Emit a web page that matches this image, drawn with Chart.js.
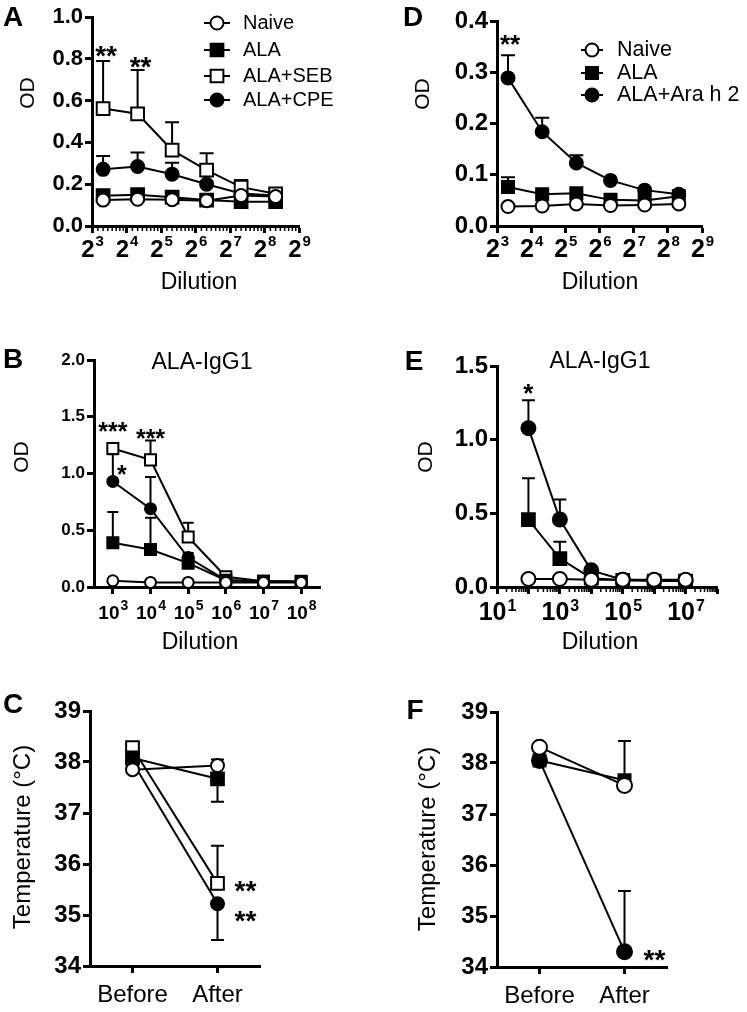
<!DOCTYPE html>
<html>
<head>
<meta charset="utf-8">
<script src="https://cdn.jsdelivr.net/npm/chart.js@4/dist/chart.umd.min.js"></script>
<style>
  html, body { margin: 0; padding: 0; background: #fff; }
  #fig { position: relative; width: 747px; height: 1012px; overflow: hidden; }
  #fig canvas { position: absolute; }
</style>
</head>
<body>
<div id="fig"></div>
<script>
// ---------- data ----------
// A: anti-ALA IgE ELISA, 2-fold dilutions
const dilA = [10, 20, 40, 80, 160, 320];
const naiveA = [0.124, 0.128, 0.126, 0.121, 0.146, 0.141];
const alaA = [0.145, 0.15, 0.138, 0.124, 0.116, 0.116];
const sebA = [0.562, 0.537, 0.363, 0.267, 0.186, 0.154];
const cpeA = [0.271, 0.285, 0.248, 0.2, 0.156, 0.146];
const sebErrA = [0.227, 0.209, 0.133, 0.081, 0.034, 0.006];
const cpeErrA = [0.064, 0.067, 0.055, 0.012, 0, 0];
const ticksA = [8, 16, 32, 64, 128, 256, 512];

// D
const dilD = [10, 20, 40, 80, 160, 320];
const naiveD = [0.038, 0.039, 0.043, 0.04, 0.041, 0.043];
const alaD = [0.076, 0.062, 0.064, 0.051, 0.05, 0.058];
const araD = [0.289, 0.184, 0.123, 0.089, 0.07, 0.062];
const alaErrD = [0.019, 0, 0, 0, 0, 0];
const araErrD = [0.044, 0.027, 0.015, 0, 0, 0];
const ticksD = [8, 16, 32, 64, 128, 256, 512];

// B: ALA-IgG1
const dilB = [1e3, 1e4, 1e5, 1e6, 1e7, 1e8];
const naiveB = [0.055, 0.04, 0.04, 0.04, 0.04, 0.04];
const alaB = [0.39, 0.33, 0.21, 0.06, 0.05, 0.05];
const sebB = [1.22, 1.12, 0.44, 0.09, 0.05, 0.045];
const cpeB = [0.93, 0.69, 0.26, 0.06, 0.05, 0.045];
const alaErrB = [0.27, 0.28, 0, 0, 0, 0];
const sebErrB = [0.04, 0.17, 0.125, 0, 0, 0];
const cpeErrB = [0.24, 0.28, 0.04, 0, 0, 0];
const ticksB = [1e3, 1e4, 1e5, 1e6, 1e7, 1e8];

// E: ALA-IgG1
const dilE = [1e2, 1e3, 1e4, 1e5, 1e6, 1e7];
const naiveE = [0.055, 0.055, 0.05, 0.05, 0.05, 0.05];
const alaE = [0.458, 0.193, 0.06, 0.045, 0.04, 0.04];
const araE = [1.078, 0.458, 0.113, 0.05, 0.045, 0.04];
const alaErrE = [0.28, 0.114, 0, 0, 0, 0];
const araErrE = [0.19, 0.136, 0.01, 0, 0, 0];
const ticksE = [1e1, 1e2, 1e3, 1e4, 1e5, 1e6, 1e7, 1e8];

// C / F: body temperature
const groups = ['Before', 'After'];
const naiveC = [37.85, 37.93];
const alaC = [38.08, 37.67];
const sebC = [38.28, 35.62];
const cpeC = [38.0, 35.22];
const naiveErrC = [0, 0.12];
const alaErrC = [0, 0.45];
const sebErrC = [0, 0.74];
const cpeErrC = [0, 0.71];

const naiveF = [38.31, 37.56];
const alaF = [38.05, 37.66];
const araF = [38.05, 34.3];
const naiveErrF = [0, 0.17];
const alaErrF = [0, 0.77];
const araErrF = [0, 1.19];

// significance marks (data coordinates)
const starsA = [{ x: 10, y: 0.847, t: '**' }, { x: 20, y: 0.794, t: '**' }];
const starsD = [{ x: 10, y: 0.367, t: '**' }];
const starsB = [{ x: 1e3, y: 1.418, t: '***' }, { x: 1e4, y: 1.361, t: '***' }, { x: 1e3, y: 1.04, t: '*', dx: 9 }];
const starsE = [{ x: 1e2, y: 1.358, t: '*' }];
const starsC = [{ x: 1, y: 35.6, t: '**' }, { x: 1, y: 35.02, t: '**' }];
const starsF = [{ x: 1, y: 34.28, t: '**' }];

// ---------- helpers ----------
const FONT = "'Liberation Sans', Arial, Helvetica, sans-serif";

const STYLE = {
  naive: { pointStyle: 'circle', fill: '#fff' },
  ala: { pointStyle: 'rect', fill: '#000' },
  seb: { pointStyle: 'rect', fill: '#fff' },
  cpe: { pointStyle: 'circle', fill: '#000' }
};

function series(label, kind, xs, ys, errs, dir, radii) {
  const st = STYLE[kind];
  const r = st.pointStyle === 'circle' ? radii[0] : radii[1];
  return {
    label: label,
    data: xs ? xs.map((x, i) => ({ x: x, y: ys[i] })) : ys,
    errors: errs,
    errorDir: dir || 1,
    borderColor: '#000',
    borderWidth: 2,
    pointStyle: st.pointStyle,
    pointBackgroundColor: st.fill,
    pointBorderColor: '#000',
    pointBorderWidth: 2,
    pointRadius: r,
    pointHoverRadius: r,
    tension: 0,
    fill: false,
    clip: false
  };
}

function makeCanvas(left, top, w, h) {
  const c = document.createElement('canvas');
  c.width = w; c.height = h;
  c.style.left = left + 'px'; c.style.top = top + 'px';
  c.style.width = w + 'px'; c.style.height = h + 'px';
  document.getElementById('fig').appendChild(c);
  return c;
}

const axisGrid = { display: true, drawOnChartArea: false, drawTicks: true, tickLength: 7, tickWidth: 3, tickColor: '#000', offset: false };
const axisBorder = { display: true, color: '#000', width: 3 };

function yAxis(min, max, step, size, fmt) {
  return {
    min: min, max: max,
    afterFit: (s) => { s.width = 60; },
    ticks: { stepSize: step, color: '#000', padding: 2, autoSkip: false,
      font: { family: FONT, size: size, weight: 'bold' }, callback: fmt },
    grid: axisGrid,
    border: axisBorder
  };
}

// log x axis; labels are "base^exp" strings, painted by the powerLabels plugin
function logX(min, max, tickVals, fmt) {
  return {
    type: 'logarithmic', min: min, max: max, bounds: 'data',
    afterFit: (s) => { s.height = 40; },
    afterBuildTicks: (s) => { s.ticks = tickVals.map(v => ({ value: v })); },
    ticks: { display: false, autoSkip: false, maxRotation: 0, callback: fmt },
    grid: axisGrid,
    border: axisBorder
  };
}

function catX(size) {
  return {
    type: 'category', offset: true,
    afterFit: (s) => { s.height = 40; },
    ticks: { color: '#000', padding: 8, maxRotation: 0, font: { family: FONT, size: size } },
    grid: axisGrid,
    border: axisBorder
  };
}

// error bars, drawn under the markers
const errorBars = {
  id: 'errorBars',
  beforeDatasetsDraw(chart, args, opts) {
    const ctx = chart.ctx;
    const ys = chart.scales.y;
    const cap = opts.cap || 6;
    ctx.save();
    ctx.strokeStyle = '#000';
    ctx.lineWidth = 2;
    chart.data.datasets.forEach((ds, i) => {
      if (!ds.errors) return;
      const meta = chart.getDatasetMeta(i);
      ds.errors.forEach((e, j) => {
        if (!e) return;
        const raw = ds.data[j];
        const v = typeof raw === 'object' ? raw.y : raw;
        const pt = meta.data[j];
        const yEnd = ys.getPixelForValue(v + e * ds.errorDir);
        ctx.beginPath();
        ctx.moveTo(pt.x, pt.y);
        ctx.lineTo(pt.x, yEnd);
        ctx.moveTo(pt.x - cap, yEnd);
        ctx.lineTo(pt.x + cap, yEnd);
        ctx.stroke();
      });
    });
    ctx.restore();
  }
};

// small log ticks along the x axis
const minorTicks = {
  id: 'minorTicks',
  afterDraw(chart, args, opts) {
    if (!opts.values) return;
    const ctx = chart.ctx;
    const xs = chart.scales.x;
    const y0 = chart.chartArea.bottom;
    ctx.save();
    ctx.strokeStyle = '#000';
    ctx.lineWidth = 1.5;
    opts.values.forEach(v => {
      const x = xs.getPixelForValue(v);
      ctx.beginPath();
      ctx.moveTo(x, y0);
      ctx.lineTo(x, y0 + (opts.length || 5));
      ctx.stroke();
    });
    ctx.restore();
  }
};

// x tick labels with a raised exponent, e.g. 2^3 or 10^5
const powerLabels = {
  id: 'powerLabels',
  afterDraw(chart, args, opts) {
    if (!opts.base) return;
    const ctx = chart.ctx;
    const xs = chart.scales.x;
    const y0 = chart.chartArea.bottom;
    ctx.save();
    ctx.fillStyle = '#000';
    ctx.textBaseline = 'alphabetic';
    ctx.textAlign = 'left';
    xs.ticks.forEach((tk, i) => {
      const lab = String(tk.label || '');
      if (!lab) return;
      const parts = lab.split('^');
      const x = xs.getPixelForTick(i);
      ctx.font = 'bold ' + opts.base + 'px ' + FONT;
      const wb = ctx.measureText(parts[0]).width;
      ctx.font = 'bold ' + opts.exp + 'px ' + FONT;
      const we = ctx.measureText(parts[1] || '').width;
      const x0 = x - (wb + we) / 2 + (opts.dx || 0);
      ctx.font = 'bold ' + opts.base + 'px ' + FONT;
      ctx.fillText(parts[0], x0, y0 + opts.baseDy);
      ctx.font = 'bold ' + opts.exp + 'px ' + FONT;
      ctx.fillText(parts[1] || '', x0 + wb + 1, y0 + opts.expDy);
    });
    ctx.restore();
  }
};

// legend with line + marker samples, inside the plot
const insetLegend = {
  id: 'insetLegend',
  afterDraw(chart, args, opts) {
    if (!opts.rows) return;
    const ctx = chart.ctx;
    ctx.save();
    chart.data.datasets.forEach((ds, i) => {
      const y = opts.rows[i];
      const xm = (opts.x1 + opts.x2) / 2;
      ctx.strokeStyle = '#000';
      ctx.lineWidth = 2;
      ctx.beginPath();
      ctx.moveTo(opts.x1, y);
      ctx.lineTo(opts.x2, y);
      ctx.stroke();
      ctx.fillStyle = ds.pointBackgroundColor;
      Chart.helpers.drawPoint(ctx, { pointStyle: ds.pointStyle, radius: ds.pointRadius, borderWidth: 2, rotation: 0 }, xm, y);
      ctx.fillStyle = '#000';
      ctx.font = opts.size + 'px ' + FONT;
      ctx.textAlign = 'left';
      ctx.textBaseline = 'middle';
      ctx.fillText(ds.label, opts.xText, y);
    });
    ctx.restore();
  }
};

// panel letters, axis titles and stars
const notes = {
  id: 'notes',
  afterDraw(chart, args, opts) {
    const ctx = chart.ctx;
    ctx.save();
    ctx.fillStyle = '#000';
    (opts.texts || []).forEach(t => {
      ctx.save();
      ctx.font = (t.bold ? 'bold ' : '') + t.size + 'px ' + FONT;
      ctx.textAlign = 'center';
      ctx.textBaseline = 'middle';
      ctx.translate(t.x, t.y);
      if (t.rot) ctx.rotate(t.rot * Math.PI / 180);
      ctx.fillText(t.text, 0, 0);
      ctx.restore();
    });
    (opts.stars || []).forEach(s => {
      const x = chart.scales.x.getPixelForValue(s.x) + (s.dx || 0) + (opts.starDx || 0);
      const y = chart.scales.y.getPixelForValue(s.y);
      const size = opts.starSize || 26;
      ctx.font = 'bold ' + size + 'px ' + FONT;
      ctx.textAlign = 'center';
      ctx.textBaseline = 'alphabetic';
      ctx.fillText(s.t, x, y + size * 0.57);
    });
    ctx.restore();
  }
};

Chart.register(errorBars, minorTicks, powerLabels, insetLegend, notes);

function baseOptions(padding, x, y, plugins) {
  return {
    responsive: false,
    animation: false,
    devicePixelRatio: 1,
    layout: { padding: padding },
    scales: { x: x, y: y },
    plugins: Object.assign({ legend: { display: false }, tooltip: { enabled: false } }, plugins)
  };
}

const fmt1 = (v) => Number(v).toFixed(1);
const pow2 = (v) => '2^' + Math.round(Math.log2(v));
const pow10 = (v) => '10^' + Math.round(Math.log10(v));
const pow10odd = (v) => { const k = Math.round(Math.log10(v)); return k % 2 ? '10^' + k : ''; };

// minor tick positions for the log axes
const minorA = [];
ticksA.slice(0, -1).forEach(b => { for (let m = 1; m < 8; m++) minorA.push(b * (1 + m / 8)); });
const minorE = [];
ticksE.slice(0, -1).forEach(b => { for (let c = 2; c < 10; c++) minorE.push(b * c); });

const LETTER = 28;

// ---------- panel A ----------
new Chart(makeCanvas(0, 0, 370, 300), {
  type: 'line',
  data: { datasets: [
    series('Naive', 'naive', dilA, naiveA, null, 1, [6.5, 9]),
    series('ALA', 'ala', dilA, alaA, null, 1, [6.5, 9]),
    series('ALA+SEB', 'seb', dilA, sebA, sebErrA, 1, [6.5, 9]),
    series('ALA+CPE', 'cpe', dilA, cpeA, cpeErrA, 1, [6.5, 9])
  ] },
  options: baseOptions({ left: 32, right: 71, top: 17, bottom: 34 },
    logX(8, 512, ticksA, pow2),
    yAxis(0, 1, 0.2, 22, fmt1),
    {
      errorBars: { cap: 7 },
      minorTicks: { values: minorA, length: 5 },
      powerLabels: { base: 24, exp: 15, baseDy: 31, expDy: 20 },
      insetLegend: { x1: 204, x2: 230, xText: 243, rows: [23, 50, 76, 100], size: 20 },
      notes: {
        texts: [
          { text: 'A', x: 13, y: 18, size: LETTER, bold: true },
          { text: 'OD', x: 28, y: 93, size: 21, rot: -90 },
          { text: 'Dilution', x: 199, y: 283, size: 23 }
        ],
        stars: starsA, starSize: 28, starDx: 3
      }
    })
});

// ---------- panel D ----------
new Chart(makeCanvas(370, 0, 377, 300), {
  type: 'line',
  data: { datasets: [
    series('Naive', 'naive', dilD, naiveD, null, 1, [6.5, 8.5]),
    series('ALA', 'ala', dilD, alaD, alaErrD, 1, [6.5, 8.5]),
    series('ALA+Ara h 2', 'cpe', dilD, araD, araErrD, 1, [6.5, 8.5])
  ] },
  options: baseOptions({ left: 67, right: 45, top: 21, bottom: 34 },
    logX(8, 512, ticksD, pow2),
    yAxis(0, 0.4, 0.1, 24, fmt1),
    {
      errorBars: { cap: 7 },
      powerLabels: { base: 25, exp: 15, baseDy: 31, expDy: 20 },
      insetLegend: { x1: 211, x2: 233, xText: 247, rows: [50, 73, 95], size: 21.5 },
      notes: {
        texts: [
          { text: 'D', x: 43, y: 18, size: LETTER, bold: true },
          { text: 'OD', x: 53, y: 94, size: 21, rot: -90 },
          { text: 'Dilution', x: 230, y: 283, size: 23 }
        ],
        stars: starsD, starSize: 26, starDx: 2
      }
    })
});

// ---------- panel B ----------
new Chart(makeCanvas(0, 300, 370, 360), {
  type: 'line',
  data: { datasets: [
    series('Naive', 'naive', dilB, naiveB, null, 1, [5.5, 7.8]),
    series('ALA', 'ala', dilB, alaB, alaErrB, 1, [5.5, 7.8]),
    series('ALA+SEB', 'seb', dilB, sebB, sebErrB, 1, [5.5, 7.8]),
    series('ALA+CPE', 'cpe', dilB, cpeB, cpeErrB, 1, [5.5, 7.8])
  ] },
  options: baseOptions({ left: 34, right: 50, top: 60, bottom: 33 },
    logX(Math.pow(10, 2.5), Math.pow(10, 8.5), ticksB, pow10),
    yAxis(0, 2, 0.5, 17, fmt1),
    {
      errorBars: { cap: 5.5 },
      powerLabels: { base: 19, exp: 14, baseDy: 32, expDy: 23 },
      notes: {
        texts: [
          { text: 'B', x: 13, y: 60, size: LETTER, bold: true },
          { text: 'ALA-IgG1', x: 202, y: 63, size: 23 },
          { text: 'OD', x: 22, y: 157, size: 21, rot: -90 },
          { text: 'Dilution', x: 200, y: 343, size: 23 }
        ],
        stars: starsB, starSize: 25
      }
    })
});

// ---------- panel E ----------
new Chart(makeCanvas(370, 300, 377, 360), {
  type: 'line',
  data: { datasets: [
    series('Naive', 'naive', dilE, naiveE, null, 1, [7, 9]),
    series('ALA', 'ala', dilE, alaE, alaErrE, 1, [7, 9]),
    series('ALA+Ara h 2', 'cpe', dilE, araE, araErrE, 1, [7, 9])
  ] },
  options: baseOptions({ left: 67, right: 30, top: 66, bottom: 33 },
    logX(10, 1e8, ticksE, pow10odd),
    yAxis(0, 1.5, 0.5, 24, fmt1),
    {
      errorBars: { cap: 6.5 },
      minorTicks: { values: minorE, length: 5 },
      powerLabels: { base: 25, exp: 16, baseDy: 33, expDy: 24 },
      notes: {
        texts: [
          { text: 'E', x: 44, y: 62, size: LETTER, bold: true },
          { text: 'ALA-IgG1', x: 230, y: 62, size: 23 },
          { text: 'OD', x: 56, y: 157, size: 21, rot: -90 },
          { text: 'Dilution', x: 230, y: 343, size: 23 }
        ],
        stars: starsE, starSize: 26
      }
    })
});

// ---------- panel C ----------
new Chart(makeCanvas(0, 660, 370, 352), {
  type: 'line',
  data: { labels: groups, datasets: [
    series('Naive', 'naive', null, naiveC, naiveErrC, 1, [6.5, 9]),
    series('ALA', 'ala', null, alaC, alaErrC, -1, [6.5, 9]),
    series('ALA+SEB', 'seb', null, sebC, sebErrC, 1, [6.5, 9]),
    series('ALA+CPE', 'cpe', null, cpeC, cpeErrC, -1, [6.5, 9])
  ] },
  options: baseOptions({ left: 30, right: 110, top: 51, bottom: 6 },
    catX(24),
    yAxis(34, 39, 1, 24, (v) => String(v)),
    {
      errorBars: { cap: 6.5 },
      notes: {
        texts: [
          { text: 'C', x: 13, y: 45, size: LETTER, bold: true },
          { text: 'Temperature (\u00B0C)', x: 23, y: 177, size: 24, rot: -90 }
        ],
        stars: starsC, starSize: 28, starDx: 28
      }
    })
});

// ---------- panel F ----------
new Chart(makeCanvas(370, 660, 377, 352), {
  type: 'line',
  data: { labels: groups, datasets: [
    series('Naive', 'naive', null, naiveF, naiveErrF, 1, [7.5, 8.5]),
    series('ALA', 'ala', null, alaF, alaErrF, 1, [7.5, 8.5]),
    series('ALA+Ara h 2', 'cpe', null, araF, araErrF, 1, [7.5, 8.5])
  ] },
  options: baseOptions({ left: 67, right: 80, top: 52, bottom: 5 },
    catX(24),
    yAxis(34, 39, 1, 24, (v) => String(v)),
    {
      errorBars: { cap: 6.5 },
      notes: {
        texts: [
          { text: 'F', x: 45, y: 51, size: LETTER, bold: true },
          { text: 'Temperature (\u00B0C)', x: 58, y: 179, size: 24, rot: -90 }
        ],
        stars: starsF, starSize: 28, starDx: 30
      }
    })
});
</script>
</body>
</html>
